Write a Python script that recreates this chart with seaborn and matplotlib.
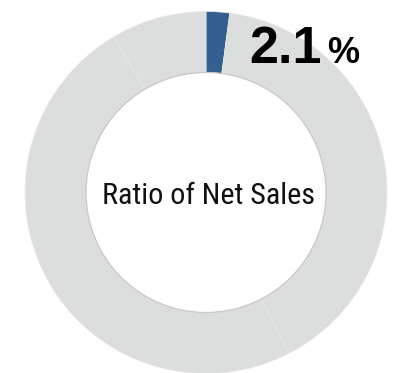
import matplotlib
matplotlib.use("Agg")
import matplotlib.pyplot as plt
import seaborn as sns
from matplotlib.patches import Circle

# Data
segments = ["Segment", "Other A", "Other B", "Other C"]
shares = [2.1, 40.3, 49.1, 8.5]
highlight_label = "2.1"
unit_label = "%"
center_label = "Ratio of Net Sales"

sns.set_theme(style="white")
plt.rcParams['font.family'] = ['Liberation Sans', 'DejaVu Sans']

blue = "#34608f"
gray = "#dcdddd"
colors = [blue, gray, gray, gray]

fig = plt.figure(figsize=(3.98, 3.73), dpi=100)
ax = fig.add_axes([0, 0, 1, 1])

R = 1.0
width = 0.337
ax.pie(shares, colors=colors, startangle=90, counterclock=False, radius=R,
       wedgeprops=dict(width=width, edgecolor="#e9e9e9", linewidth=0.5))
ax.add_patch(Circle((0, 0), R - width, facecolor="white", edgecolor="#c8c8c8",
                    linewidth=0.9, zorder=5))

pxu = 181.0
cx, cy = 206.0, 373 - 192.5
ax.set_xlim(-cx / pxu, (398 - cx) / pxu)
ax.set_ylim(-cy / pxu, (373 - cy) / pxu)
ax.set_aspect('auto')
ax.axis('off')

def to_data(px, py):
    return (px - cx) / pxu, ((373 - py) - cy) / pxu

x, y = to_data(249, 63)
t = ax.text(x, y, highlight_label, fontsize=37.5, fontweight='bold', ha='left', va='baseline',
            color='black', zorder=6, family=['Liberation Sans', 'DejaVu Sans'])
fig.canvas.draw()
bb = t.get_window_extent()
end_px = bb.x1
x2, _ = to_data(end_px + 6, 63)
ax.text(x2, y, unit_label, fontsize=26, fontweight='bold', ha='left', va='baseline',
        color='black', zorder=6, family=['Liberation Sans', 'DejaVu Sans'])

x, y = to_data(209, 196)
ax.text(x, y, center_label, fontsize=21.7, ha='center', va='center', color='#111111',
        family=['Roboto Condensed', 'DejaVu Sans'], zorder=6)

fig.savefig("out.png", dpi=100)
